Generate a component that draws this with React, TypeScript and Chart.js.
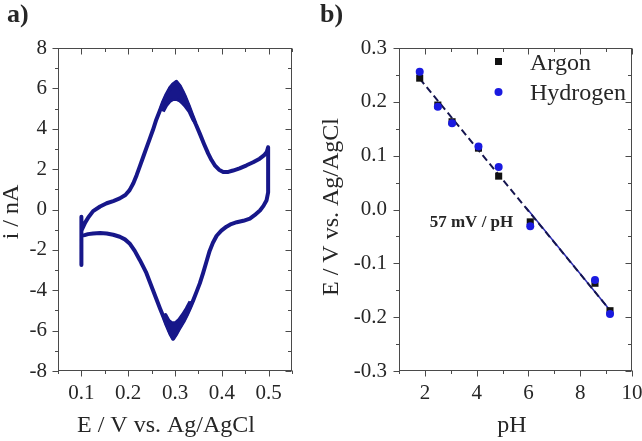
import React, { useEffect, useRef } from 'react';
import { Chart, registerables } from 'chart.js';

Chart.register(...registerables);

const SERIF = '"Liberation Serif", "Times New Roman", Times, serif';
const NAVY = '#17178a';
const TEXT = '#262626';
const AXIS = '#4a4a4a';

// ---------------- Panel a: cyclic voltammogram ----------------
const cvPotential = [
  0.1, 0.1, 0.1,
  0.104, 0.108, 0.115, 0.125, 0.14, 0.154, 0.168, 0.182, 0.194, 0.203, 0.211, 0.218, 0.225,
  0.232, 0.239, 0.246, 0.253, 0.26, 0.268, 0.275, 0.282, 0.289, 0.296, 0.303, 0.31, 0.316,
  0.322, 0.329, 0.336, 0.344, 0.353, 0.362, 0.371, 0.378, 0.385, 0.394, 0.403, 0.414, 0.424,
  0.438, 0.453, 0.467, 0.481, 0.49, 0.496, 0.499, 0.499,
  0.4957, 0.489, 0.4815, 0.47, 0.46, 0.446, 0.432, 0.42, 0.41, 0.399, 0.389, 0.381, 0.374,
  0.367, 0.36, 0.353, 0.346, 0.339, 0.332, 0.325, 0.318, 0.31, 0.303, 0.296, 0.29, 0.282,
  0.275, 0.268, 0.26, 0.253, 0.246, 0.238, 0.231, 0.225, 0.214, 0.203, 0.193, 0.182, 0.168,
  0.154, 0.14, 0.125, 0.114, 0.107, 0.1,
];
const cvCurrent = [
  -2.75, -0.36, -1.05,
  -0.85, -0.65, -0.38, -0.08, 0.15, 0.31, 0.42, 0.55, 0.72, 0.96, 1.3, 1.7, 2.15,
  2.6, 3.05, 3.5, 3.95, 4.45, 4.92, 5.35, 5.7, 6.0, 6.2, 6.32, 6.12, 5.85,
  5.55, 5.15, 4.72, 4.25, 3.76, 3.25, 2.77, 2.45, 2.19, 1.97, 1.86, 1.86, 1.93,
  2.04, 2.19, 2.34, 2.52, 2.68, 2.85, 3.08, 0.85,
  0.46, 0.18, -0.05, -0.28, -0.45, -0.56, -0.63, -0.72, -0.85, -1.05, -1.3, -1.65, -2.05,
  -2.6, -3.15, -3.66, -4.08, -4.49, -4.88, -5.23, -5.55, -5.85, -6.15, -6.4, -6.15, -5.72,
  -5.3, -4.9, -4.42, -4.0, -3.58, -3.1, -2.78, -2.51, -2.05, -1.68, -1.48, -1.35, -1.25,
  -1.19, -1.17, -1.19, -1.22, -1.27, -1.3,
];
// spread of the repeated cycles around the oxidation peak (outer edge, then inner edge back)
const anodicBandPotential = [
  0.268, 0.275, 0.282, 0.289, 0.296, 0.303, 0.31, 0.316, 0.322, 0.329, 0.336, 0.344,
  0.338, 0.33, 0.322, 0.316, 0.31, 0.303, 0.296, 0.289, 0.282, 0.275,
];
const anodicBandCurrent = [
  4.92, 5.35, 5.7, 6.0, 6.2, 6.32, 6.12, 5.85, 5.55, 5.15, 4.72, 4.25,
  4.45, 4.85, 5.1, 5.25, 5.38, 5.45, 5.45, 5.35, 5.15, 4.85,
];
// spread of the repeated cycles around the reduction peak
const cathodicBandPotential = [
  0.339, 0.332, 0.325, 0.318, 0.31, 0.303, 0.296, 0.29, 0.282, 0.275,
  0.28, 0.287, 0.294, 0.301, 0.308, 0.316, 0.324, 0.332,
];
const cathodicBandCurrent = [
  -4.49, -4.88, -5.23, -5.55, -5.85, -6.15, -6.4, -6.15, -5.72, -5.3,
  -5.2, -5.5, -5.62, -5.6, -5.45, -5.2, -4.9, -4.55,
];
const cvXTicks = [0.1, 0.2, 0.3, 0.4, 0.5];
const cvXMinor = [0.05, 0.15, 0.25, 0.35, 0.45, 0.55];
const cvYTicks = [-8, -6, -4, -2, 0, 2, 4, 6, 8];
const cvYMinor = [-7, -5, -3, -1, 1, 3, 5, 7];

// ---------------- Panel b: E vs pH ----------------
const pHValues = [1.8, 2.5, 3.05, 4.07, 4.85, 6.07, 8.57, 9.15];
const argonE = [0.244, 0.194, 0.163, 0.114, 0.062, -0.023, -0.137, -0.188];
const hydrogenE = [0.256, 0.191, 0.16, 0.117, 0.079, -0.031, -0.131, -0.194];
const fitDashPH = [1.8, 9.15];
const fitDashE = [0.243, -0.187];
const fitSolidPH = [5.9, 9.15];
const fitSolidE = [0.004, -0.187];
const phXTicks = [2, 4, 6, 8, 10];
const phXMinor = [1, 3, 5, 7, 9];
const phYTicks = [-0.3, -0.2, -0.1, 0, 0.1, 0.2, 0.3];
const phYMinor = [-0.25, -0.15, -0.05, 0.05, 0.15, 0.25];
const slopeLabel = '57 mV / pH';
const slopeLabelPH = 3.8;
const slopeLabelE = -0.025;

const ARGON_COLOR = '#111111';
const HYDROGEN_COLOR = '#1a1ae0';

const pts = (xs: number[], ys: number[]) => xs.map((x, i) => ({ x, y: ys[i] }));

function axisScale(min: number, max: number, ticks: number[], fmt: (v: number) => string, padding: number, size: number, horizontal: boolean) {
  return {
    type: 'linear',
    min,
    max,
    grid: { display: false, drawTicks: false },
    border: { display: false },
    ticks: {
      color: TEXT,
      font: { family: SERIF, size: 21 },
      padding,
      autoSkip: false,
      maxRotation: 0,
      callback: (v: number) => fmt(Number(v)),
    },
    afterBuildTicks: (s: any) => {
      s.ticks = ticks.map((v) => ({ value: v }));
    },
    afterFit: (s: any) => {
      if (horizontal) s.height = size;
      else s.width = size;
      s.paddingLeft = 0;
      s.paddingRight = 0;
      s.paddingTop = 0;
      s.paddingBottom = 0;
    },
  };
}

function drawFrame(chart: any, xMajor: number[], xMinor: number[], yMajor: number[], yMinor: number[]) {
  const { ctx, chartArea: a, scales } = chart;
  const L = Math.round(a.left) + 0.5;
  const R = Math.round(a.right) - 0.5;
  const T = Math.round(a.top) + 0.5;
  const B = Math.round(a.bottom) - 0.5;
  ctx.save();
  ctx.strokeStyle = AXIS;
  ctx.lineWidth = 1;
  ctx.strokeRect(L, T, R - L, B - T);
  ctx.beginPath();
  const xt = (vals: number[], len: number) => {
    vals.forEach((v) => {
      const p = Math.round(scales.x.getPixelForValue(v)) + 0.5;
      ctx.moveTo(p, B);
      ctx.lineTo(p, B + len);
      ctx.moveTo(p, T);
      ctx.lineTo(p, T + len);
    });
  };
  const yt = (vals: number[], len: number) => {
    vals.forEach((v) => {
      const p = Math.round(scales.y.getPixelForValue(v)) + 0.5;
      ctx.moveTo(L - len, p);
      ctx.lineTo(L, p);
      ctx.moveTo(R - len, p);
      ctx.lineTo(R, p);
    });
  };
  xt(xMajor, 6);
  xt(xMinor, 3.5);
  yt(yMajor, 6);
  yt(yMinor, 3.5);
  ctx.stroke();
  ctx.restore();
}

function drawText(ctx: CanvasRenderingContext2D, str: string, x: number, y: number, font: string, rotate = false, align: CanvasTextAlign = 'center', baseline: CanvasTextBaseline = 'alphabetic') {
  ctx.save();
  ctx.fillStyle = TEXT;
  ctx.font = font;
  ctx.textAlign = align;
  ctx.textBaseline = baseline;
  ctx.translate(x, y);
  if (rotate) ctx.rotate(-Math.PI / 2);
  ctx.fillText(str, 0, 0);
  ctx.restore();
}

const decorA = {
  id: 'decorA',
  afterDraw(chart: any) {
    drawFrame(chart, cvXTicks, cvXMinor, cvYTicks, cvYMinor);
    const ctx = chart.ctx;
    drawText(ctx, 'a)', 7, 22, `bold 26px ${SERIF}`, false, 'left');
    drawText(ctx, 'E / V vs. Ag/AgCl', 166, 432, `24px ${SERIF}`);
    drawText(ctx, 'i / nA', 18, 212, `24px ${SERIF}`, true);
  },
};

const decorB = {
  id: 'decorB',
  afterDraw(chart: any) {
    drawFrame(chart, phXTicks, phXMinor, phYTicks, phYMinor);
    const ctx = chart.ctx;
    drawText(ctx, 'b)', 0, 22, `bold 26px ${SERIF}`, false, 'left');
    drawText(ctx, 'pH', 192, 432, `24px ${SERIF}`);
    drawText(ctx, 'E / V vs. Ag/AgCl', 18, 207, `24px ${SERIF}`, true);
    // legend
    ctx.save();
    ctx.fillStyle = ARGON_COLOR;
    ctx.fillRect(175, 58, 7, 7);
    ctx.fillStyle = HYDROGEN_COLOR;
    ctx.beginPath();
    ctx.arc(178.5, 92, 4, 0, Math.PI * 2);
    ctx.fill();
    ctx.restore();
    drawText(ctx, 'Argon', 210, 70, `24px ${SERIF}`, false, 'left');
    drawText(ctx, 'Hydrogen', 210, 100, `24px ${SERIF}`, false, 'left');
    // annotation
    const sx = chart.scales.x.getPixelForValue(slopeLabelPH);
    const sy = chart.scales.y.getPixelForValue(slopeLabelE);
    drawText(ctx, slopeLabel, sx, sy, `bold 17px ${SERIF}`, false, 'center', 'middle');
  },
};

function configA(): any {
  return {
    type: 'scatter',
    data: {
      datasets: [
        {
          label: 'CV',
          data: pts(cvPotential, cvCurrent),
          showLine: true,
          borderColor: NAVY,
          borderWidth: 4,
          pointRadius: 0,
          tension: 0,
          fill: false,
          borderJoinStyle: 'round',
          borderCapStyle: 'round',
        },
        {
          label: 'anodic spread',
          data: pts(anodicBandPotential, anodicBandCurrent),
          showLine: true,
          borderColor: NAVY,
          backgroundColor: NAVY,
          borderWidth: 3,
          pointRadius: 0,
          tension: 0,
          fill: 'shape',
          borderJoinStyle: 'round',
        },
        {
          label: 'cathodic spread',
          data: pts(cathodicBandPotential, cathodicBandCurrent),
          showLine: true,
          borderColor: NAVY,
          backgroundColor: NAVY,
          borderWidth: 3,
          pointRadius: 0,
          tension: 0,
          fill: 'shape',
          borderJoinStyle: 'round',
        },
      ],
    },
    options: {
      responsive: false,
      animation: false,
      events: [],
      layout: { padding: { left: 0, right: 28, top: 48, bottom: 0 } },
      plugins: { legend: { display: false }, tooltip: { enabled: false } },
      scales: {
        x: axisScale(0.05, 0.55, cvXTicks, (v) => v.toFixed(1), 10, 70, true),
        y: axisScale(-8, 8, cvYTicks, (v) => String(v), 11, 58, false),
      },
    },
    plugins: [decorA],
  };
}

function configB(): any {
  return {
    type: 'scatter',
    data: {
      datasets: [
        {
          label: 'Hydrogen',
          data: pts(pHValues, hydrogenE),
          pointStyle: 'circle',
          pointRadius: 4,
          backgroundColor: HYDROGEN_COLOR,
          borderWidth: 0,
          order: 0,
        },
        {
          label: 'Argon',
          data: pts(pHValues, argonE),
          pointStyle: 'rect',
          pointRadius: 5,
          backgroundColor: ARGON_COLOR,
          borderWidth: 0,
          order: 1,
        },
        {
          label: 'fit (dashed)',
          data: pts(fitDashPH, fitDashE),
          showLine: true,
          borderColor: '#15154f',
          borderDash: [7, 4],
          borderWidth: 2,
          pointRadius: 0,
          order: 2,
        },
        {
          label: 'fit (solid)',
          data: pts(fitSolidPH, fitSolidE),
          showLine: true,
          borderColor: '#2b2bb0',
          borderWidth: 1.5,
          pointRadius: 0,
          order: 3,
        },
      ],
    },
    options: {
      responsive: false,
      animation: false,
      events: [],
      layout: { padding: { left: 0, right: 10, top: 48, bottom: 0 } },
      plugins: { legend: { display: false }, tooltip: { enabled: false } },
      scales: {
        x: axisScale(1, 10, phXTicks, (v) => String(v), 10, 70, true),
        y: axisScale(-0.3, 0.3, phYTicks, (v) => v.toFixed(1), 12, 79, false),
      },
    },
    plugins: [decorB],
  };
}

export default function App() {
  const refA = useRef<HTMLCanvasElement>(null);
  const refB = useRef<HTMLCanvasElement>(null);
  useEffect(() => {
    const a = new Chart(refA.current as HTMLCanvasElement, configA());
    const b = new Chart(refB.current as HTMLCanvasElement, configB());
    return () => {
      a.destroy();
      b.destroy();
    };
  }, []);
  return (
    <div style={{ position: 'fixed', left: 0, top: 0, width: 642, height: 441, background: '#fff' }}>
      <canvas ref={refA} width={320} height={441} style={{ position: 'absolute', left: 0, top: 0, width: 320, height: 441 }} />
      <canvas ref={refB} width={322} height={441} style={{ position: 'absolute', left: 320, top: 0, width: 322, height: 441 }} />
    </div>
  );
}
